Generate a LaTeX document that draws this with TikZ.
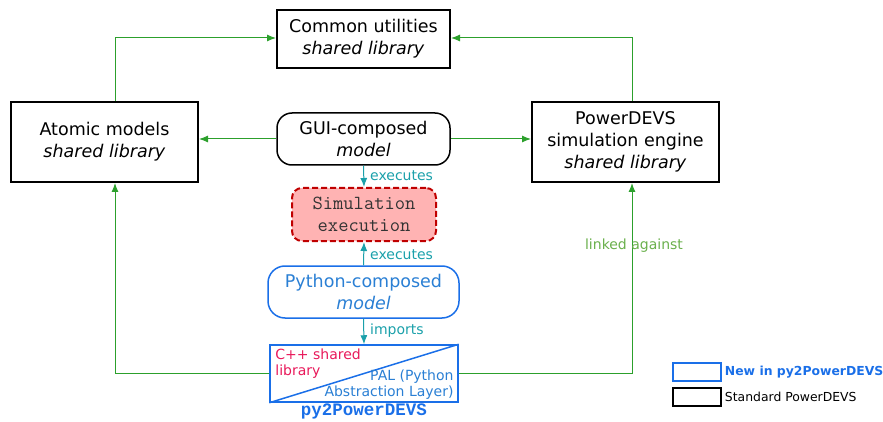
\documentclass[tikz,border=0pt]{standalone}
\usepackage{fontspec}
\setmainfont{DejaVu Sans}
\newfontfamily\pytt{Liberation Mono}
\usetikzlibrary{arrows.meta,positioning}

\definecolor{pyblue}{HTML}{1A6FE8}
\definecolor{pytext}{HTML}{2A7FD4}
\definecolor{cppred}{HTML}{E8195A}
\definecolor{exteal}{HTML}{1AA0AA}
\definecolor{linkgreen}{HTML}{2CA02C}
\definecolor{linklabel}{HTML}{6AB04C}
\definecolor{simfill}{HTML}{FFB3B3}
\definecolor{simdraw}{HTML}{C00000}

\newcommand\mainsz{\fontsize{17.5}{22}\selectfont}
\newcommand\monosz{\fontsize{20}{22}\selectfont}
\newcommand\labsz{\fontsize{14}{16}\selectfont}
\newcommand\legsz{\fontsize{12.4}{14}\selectfont}

\tikzset{
    libbox/.style={draw, line width=2pt, align=center, inner sep=0pt, font=\mainsz},
    modelbox/.style={draw, line width=1.5pt, rounded corners=15pt, align=center, inner sep=0pt, font=\mainsz},
    linkarrow/.style={draw=linkgreen, line width=1pt, -{Latex[length=9pt,width=7pt]}},
    execarrow/.style={draw=exteal, line width=1pt, -{Latex[length=9pt,width=7pt]}},
    execlabel/.style={text=exteal, font=\labsz, anchor=west, inner sep=0pt}
}

\begin{document}
\begin{tikzpicture}[x=1pt,y=-1pt]

    \useasboundingbox (0,0) rectangle (883,422);

    %draw libraries:
    \node[libbox, minimum width=173pt, minimum height=58pt] (common) at (363.5,39)
        {Common utilities\\\textit{shared library}};
    \node[libbox, minimum width=187pt, minimum height=80pt] (atomic) at (104.5,142)
        {Atomic models\\\textit{shared library}};
    \node[libbox, minimum width=187pt, minimum height=80pt] (engine) at (625.5,142)
        {PowerDEVS\\simulation engine\\\textit{shared library}};

    %draw models:
    \node[modelbox, minimum width=173pt, minimum height=52pt] (gui) at (363.5,139)
        {GUI-composed\\\textit{model}};
    \node[modelbox, draw=simdraw, fill=simfill, line width=2pt, dash pattern=on 6pt off 3pt, rounded corners=10pt,
        minimum width=144pt, minimum height=53pt, font=\monosz\ttfamily, text=black!80] (sim) at (364,214.5)
        {Simulation\\execution};
    \node[modelbox, draw=pyblue, text=pytext, rounded corners=17pt,
        minimum width=191pt, minimum height=52pt] (python) at (363.5,292)
        {Python-composed\\\textit{model}};

    %draw py2PowerDEVS box:
    \node[draw=pyblue, line width=1.5pt, minimum width=188pt, minimum height=57pt, inner sep=0pt] (py2) at (364,373.5) {};
    \draw[pyblue, line width=1.5pt] (py2.south west) -- (py2.north east);
    \node[anchor=north west, align=left, text=cppred, font=\labsz, inner sep=0pt] (cpp) at ([xshift=6pt,yshift=-4pt]py2.north west)
        {C++ shared\\library};
    \node[anchor=south east, align=right, text=pytext, font=\labsz, inner sep=0pt] (pal) at ([xshift=-5pt,yshift=3pt]py2.south east)
        {PAL (Python\\Abstraction Layer)};
    \node[below=1pt of py2, inner sep=0pt, text=pyblue, font=\fontsize{17.5}{20}\selectfont\pytt\bfseries] (py2name) {py2PowerDEVS};

    %columns for the links:
    \coordinate (lcol) at (115,38);
    \coordinate (rcol) at (632,38);

    %draw links:
    \draw[linkarrow] (atomic.north -| lcol) |- (common.west |- lcol);
    \draw[linkarrow] (engine.north -| rcol) |- (common.east |- rcol);
    \draw[linkarrow] (gui.west) -- (atomic.east |- gui.west);
    \draw[linkarrow] (gui.east) -- (engine.west |- gui.east);
    \draw[linkarrow] (py2.west) -| (lcol |- atomic.south);
    \draw[linkarrow] (py2.east) -| (rcol |- engine.south);
    \node[text=linklabel, font=\labsz, inner sep=0pt] (linked) at (634,246) {linked against};

    %draw executes and imports:
    \draw[execarrow] (gui.south) -- (sim.north);
    \draw[execarrow] (python.north) -- (sim.south);
    \draw[execarrow] (python.south) -- (py2.north);
    \node[execlabel] (exgui) at (370,176) {executes};
    \node[execlabel] (expy) at (370,255) {executes};
    \node[execlabel] (imp) at (370,331) {imports};

    %draw legend:
    \node[draw=pyblue, line width=1.5pt, minimum width=48pt, minimum height=18pt, inner sep=0pt] (legnew) at (697,372) {};
    \node[draw, line width=1.5pt, minimum width=48pt, minimum height=18pt, inner sep=0pt] (legstd) at (697,397) {};
    \node[right=3pt of legnew, inner sep=0pt, text=pyblue, font=\legsz\bfseries] (legnewtext) {New in py2PowerDEVS};
    \node[right=3pt of legstd, inner sep=0pt, font=\legsz] (legstdtext) {Standard PowerDEVS};

\end{tikzpicture}
\end{document}
